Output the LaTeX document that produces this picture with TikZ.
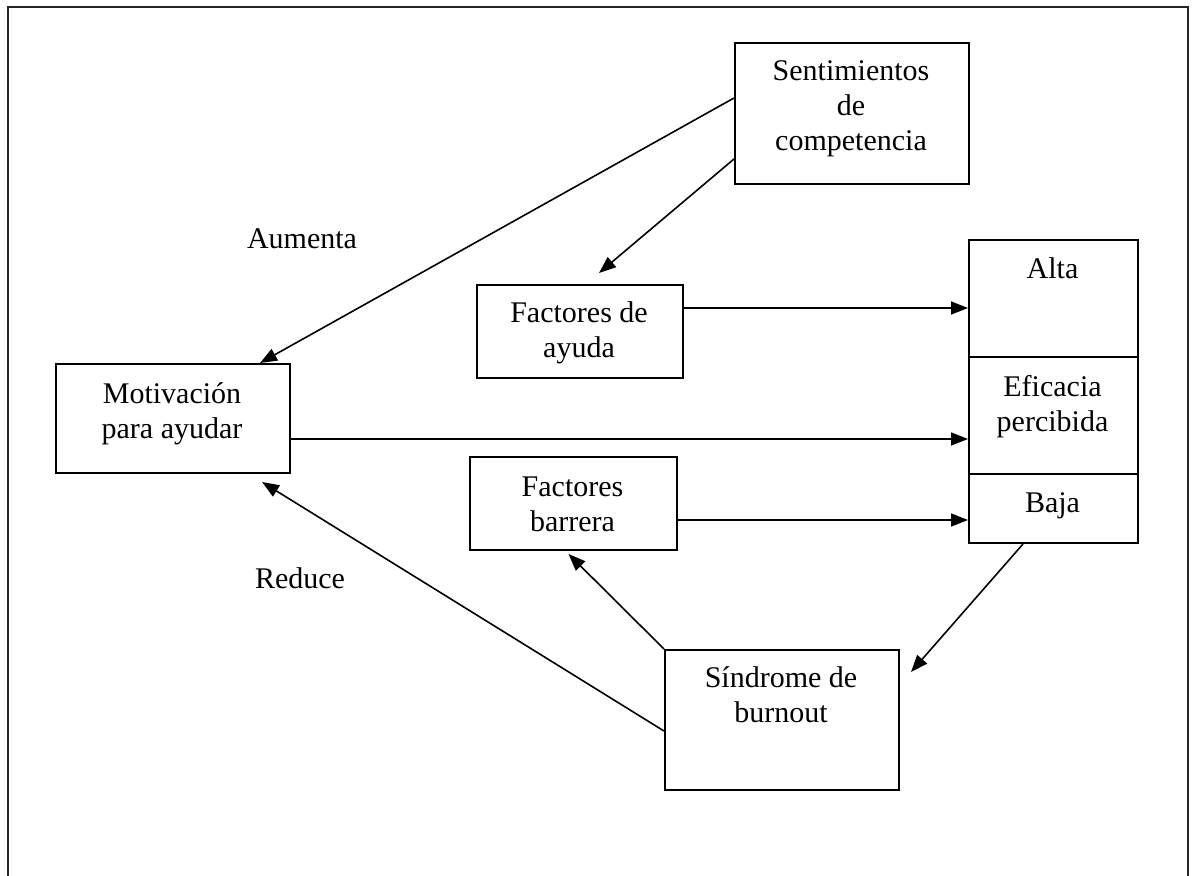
\documentclass[tikz,border=0pt]{standalone}
\usepackage{fontspec}
\setmainfont{Liberation Serif}
\usetikzlibrary{arrows.meta}
\begin{document}
\begin{tikzpicture}[x=1pt,y=-1pt,
  box/.style={draw, line width=2pt, inner sep=0pt, anchor=north west},
  lbl/.style={font=\fontsize{30}{35}\selectfont, align=center, inner sep=0pt, anchor=base},
  link/.style={line width=1.6pt, -{Triangle[length=17pt,width=13pt]}},
  frame/.style={line width=2.4pt, draw=black!85}]
\useasboundingbox (0,0) rectangle (1195,876);

% open outer frame
\draw[frame] (8,890) -- (8,7) -- (1188,7) -- (1188,890);

% boxes
\node[box, minimum width=234, minimum height=141] (sent) at (734,42) {};
\node[box, minimum width=206, minimum height=93]  (fa)   at (476,284) {};
\node[box, minimum width=234, minimum height=109] (mot)  at (55,363) {};
\node[box, minimum width=207, minimum height=93]  (fb)   at (469,456) {};
\node[box, minimum width=234, minimum height=140] (sind) at (664,649) {};
\node[box, minimum width=169, minimum height=117] (alta) at (968,239) {};
\node[box, minimum width=169, minimum height=117] (ef)   at (968,356) {};
\node[box, minimum width=169, minimum height=69]  (baja) at (968,473) {};

% box texts (anchored at the baseline of the last line)
\node[lbl] (sent-t) at (851,150)    {Sentimientos\\de\\competencia};
\node[lbl] (fa-t)   at (579,357)    {Factores de\\ayuda};
\node[lbl] (mot-t)  at (172,438)    {Motivación\\para ayudar};
\node[lbl] (fb-t)   at (572.5,531)  {Factores\\barrera};
\node[lbl] (sind-t) at (781,722)    {Síndrome de\\burnout};
\node[lbl] (alta-t) at (1052.5,278) {Alta};
\node[lbl] (ef-t)   at (1052.5,431) {Eficacia\\percibida};
\node[lbl] (baja-t) at (1052.5,512) {Baja};

% free labels
\node[lbl] (aum) at (302,248) {Aumenta};
\node[lbl] (red) at (300,588) {Reduce};

% connectors
\draw[link] ([yshift=15.5]sent.west) -- ([xshift=-31]mot.north east);
\draw[link] ([yshift=-45.5]sent.west) -- ([shift={(19,-11)}]fa.north);
\draw[link] ([yshift=23.5]fa.east) -- ([yshift=23.5]fa.east -| alta.west);
\draw[link] ([yshift=-20.5]mot.east) -- ([yshift=-20.5]mot.east -| ef.west);
\draw[link] ([yshift=-16.5]fb.east) -- ([yshift=-16.5]fb.east -| baja.west);
\draw[link] ([xshift=-30.5]baja.south) -- ([shift={(11,23)}]sind.north east);
\draw[link] (sind.north west) -- ([shift={(-5,3)}]fb.south);
\draw[link] ([yshift=-11]sind.west) -- ([shift={(-29,8)}]mot.south east);
\end{tikzpicture}
\end{document}
